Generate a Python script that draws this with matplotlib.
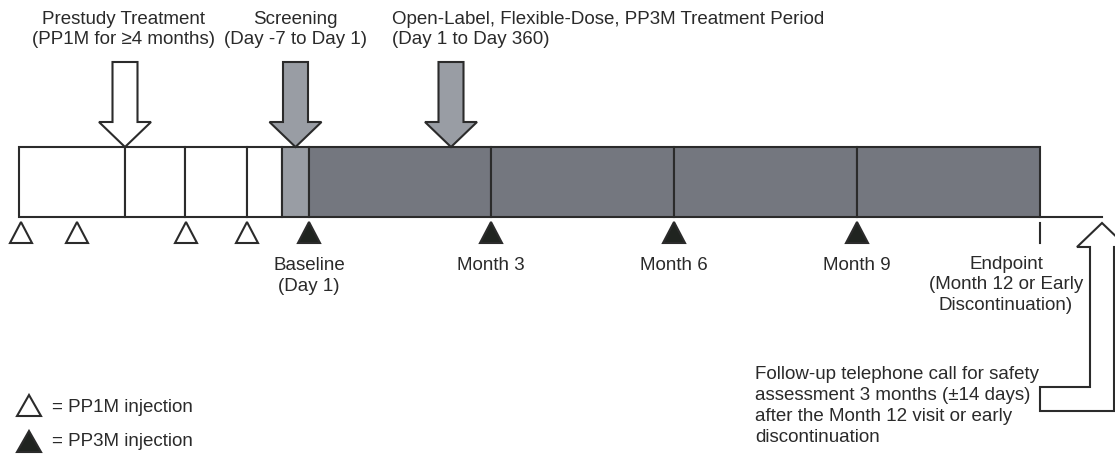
import matplotlib
matplotlib.use("Agg")
import matplotlib.pyplot as plt
from matplotlib.patches import Polygon, Rectangle

plt.rcParams['font.family'] = ['Liberation Sans', 'DejaVu Sans']

# ---- data (diagram positions in pixel-like units) ----
W, H = 1115, 455
bar_top, bar_bottom = 147, 217
segment_edges = [19, 124.5, 184.5, 247, 282, 309, 491, 674, 857, 1040]
segment_colors = ['white', 'white', 'white', 'white', '#999da4',
                  '#74777f', '#74777f', '#74777f', '#74777f']
pp1m_x = [21, 77, 186, 247]
pp3m_x = [309, 491, 674, 857]
visit_labels = ['Baseline\n(Day 1)', 'Month 3', 'Month 6', 'Month 9']
endpoint_x = 1040
endpoint_label = 'Endpoint\n(Month 12 or Early\nDiscontinuation)'
line_end_x = 1102

phase_arrow_x = [125, 295.5, 451]
phase_arrow_colors = ['white', '#999da4', '#999da4']
phase_labels = ['Prestudy Treatment\n(PP1M for \u22654 months)',
                'Screening\n(Day -7 to Day 1)',
                'Open-Label, Flexible-Dose, PP3M Treatment Period\n(Day 1 to Day 360)']
phase_label_x = [124, 295, 392]
phase_label_ha = ['center', 'center', 'left']

followup_text = ('Follow-up telephone call for safety\n'
                 'assessment 3 months (\u00b114 days)\n'
                 'after the Month 12 visit or early\n'
                 'discontinuation')
legend_labels = ['= PP1M injection', '= PP3M injection']

EDGE = '#2b2b2b'
TXT = '#2a2a2a'
FS = 13.5
LW = 1.5

fig = plt.figure(figsize=(W / 100, H / 100), dpi=100)
ax = fig.add_axes([0, 0, 1, 1])
ax.set_xlim(0, W)
ax.set_ylim(H, 0)
ax.axis('off')

# bar segments
for x0, x1, c in zip(segment_edges[:-1], segment_edges[1:], segment_colors):
    ax.add_patch(Rectangle((x0, bar_top), x1 - x0, bar_bottom - bar_top,
                           facecolor=c, edgecolor=EDGE, lw=LW, zorder=2))

# baseline continuation and endpoint tick
ax.plot([endpoint_x, line_end_x], [bar_bottom, bar_bottom], color=EDGE, lw=LW, zorder=2)
ax.plot([endpoint_x, endpoint_x], [223, 243], color=EDGE, lw=LW, zorder=2)


def tri(cx, top, w, h, fc):
    return Polygon([(cx - w / 2, top + h), (cx, top), (cx + w / 2, top + h)],
                   closed=True, facecolor=fc, edgecolor=EDGE, lw=LW,
                   joinstyle='miter', zorder=3)


for x in pp1m_x:
    ax.add_patch(tri(x, 222, 22, 21, 'white'))
for x in pp3m_x:
    ax.add_patch(tri(x, 222, 22, 21, '#202420'))

for x, lab in zip(pp3m_x, visit_labels):
    ax.text(x, 257, lab, ha='center', va='top', fontsize=FS, color=TXT,
            linespacing=1.3)
ax.text(1006, 256, endpoint_label, ha='center', va='top', fontsize=FS,
        color=TXT, linespacing=1.25)

# phase arrows (down)
shaft_w, head_w, shaft_top, head_base = 25, 52, 62, 122
for cx, c in zip(phase_arrow_x, phase_arrow_colors):
    pts = [(cx - shaft_w / 2, shaft_top), (cx + shaft_w / 2, shaft_top),
           (cx + shaft_w / 2, head_base), (cx + head_w / 2, head_base),
           (cx, bar_top), (cx - head_w / 2, head_base),
           (cx - shaft_w / 2, head_base)]
    ax.add_patch(Polygon(pts, closed=True, facecolor=c, edgecolor=EDGE,
                         lw=LW, joinstyle='miter', zorder=4))

for x, lab, ha in zip(phase_label_x, phase_labels, phase_label_ha):
    ax.text(x, 11, lab, ha=ha, va='top', fontsize=FS, color=TXT,
            linespacing=1.25)

# follow-up L arrow
fx = line_end_x
fpts = [(1040, 387), (fx - 12, 387), (fx - 12, 247), (fx - 25, 247),
        (fx, 223), (fx + 25, 247), (fx + 12, 247), (fx + 12, 411),
        (1040, 411)]
ax.add_patch(Polygon(fpts, closed=True, facecolor='white', edgecolor=EDGE,
                     lw=LW, joinstyle='miter', zorder=4))
ax.text(755, 366, followup_text, ha='left', va='top', fontsize=FS, color=TXT,
        linespacing=1.32)

# legend
ax.add_patch(tri(29, 395, 24, 21, 'white'))
ax.add_patch(tri(29, 431, 24, 21, '#202420'))
ax.text(52, 407, legend_labels[0], ha='left', va='center', fontsize=FS, color=TXT)
ax.text(52, 442, legend_labels[1], ha='left', va='center', fontsize=FS, color=TXT)

fig.savefig('out.png', dpi=100, facecolor='white')
